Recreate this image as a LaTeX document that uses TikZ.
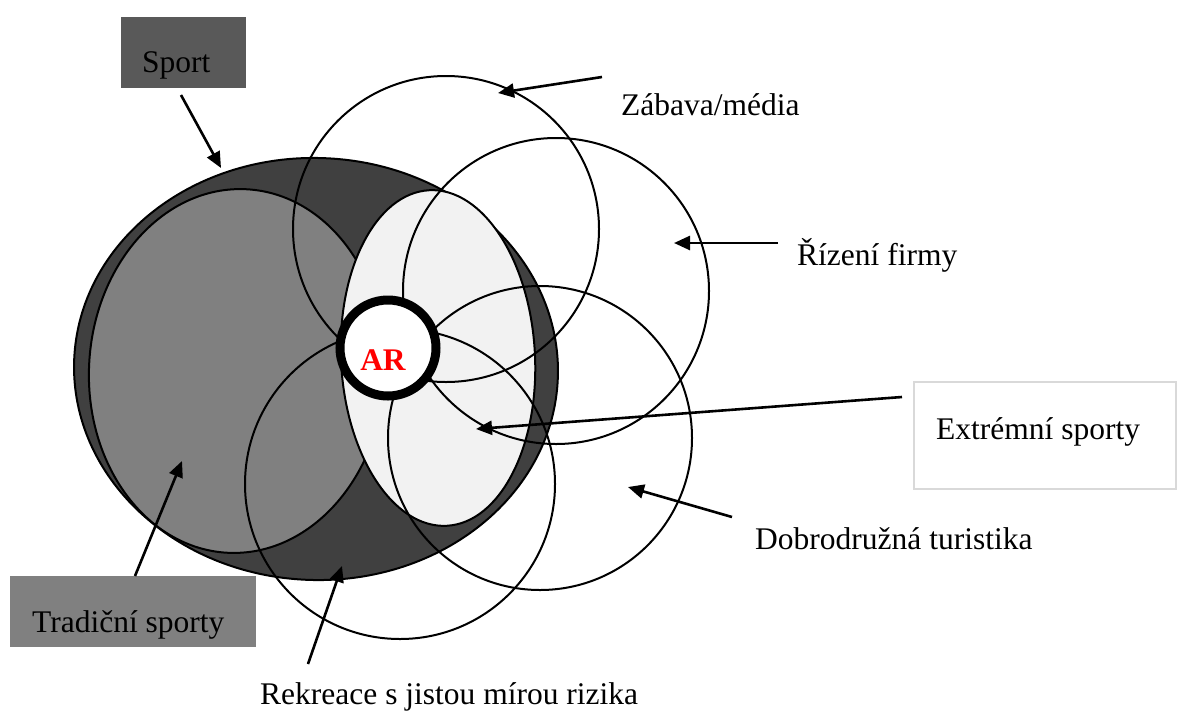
\documentclass[tikz,border=0pt]{standalone}
\usepackage{fontspec}
\setmainfont{Liberation Serif}
\usetikzlibrary{arrows.meta}
\definecolor{sportdark}{HTML}{404040}
\definecolor{tradgray}{HTML}{808080}
\definecolor{extrlight}{HTML}{F2F2F2}
\definecolor{sportbox}{HTML}{595959}
\definecolor{boxline}{HTML}{D9D9D9}
\begin{document}
\begin{tikzpicture}[x=1pt,y=-1pt,
  lbl/.style={font=\fontsize{31.5}{36}\selectfont, inner sep=0pt, text=black},
  outl/.style={draw=black, line width=2pt},
  arr/.style={draw=black, line width=2.6pt, -{Triangle[length=16pt,width=14pt]}},
  labelbox/.style={rectangle, inner sep=0pt, draw=none}]
\useasboundingbox (0,0) rectangle (1178,713);
% regions
\fill[sportdark, draw=black, line width=2pt, rotate around={-2:(316,369)}] (316,369) ellipse [x radius=242pt, y radius=211pt];
\fill[tradgray, draw=black, line width=2pt, rotate around={-3:(237,371)}] (237,371) ellipse [x radius=148pt, y radius=182pt];
\fill[extrlight, draw=black, line width=2pt, rotate around={3:(438,358)}] (438,358) ellipse [x radius=97pt, y radius=168pt];
% overlapping circles
\draw[outl] (446,229) circle [radius=153pt];
\draw[outl] (556,291) circle [radius=153pt];
\draw[outl] (540,438) circle [radius=152pt];
\draw[outl] (400,484) circle [radius=155pt];
% AR
\node[circle, draw=black, fill=white, line width=9pt, minimum size=96pt, inner sep=0pt] (ar) at (388,348) {};
\node[lbl, font=\fontsize{31.5}{36}\selectfont\bfseries, text=red] (artext) at (383,360) {AR};
% label boxes
\node[labelbox, fill=sportbox, minimum width=125pt, minimum height=71pt] (sportbox) at (183.5,52.5) {};
\node[lbl, anchor=base west] (sportlbl) at (142,72) {Sport};
\node[labelbox, fill=tradgray, minimum width=246pt, minimum height=71pt] (tradbox) at (133,611.5) {};
\node[lbl, anchor=base west] (tradlbl) at (32,632) {Tradiční sporty};
\node[labelbox, draw=boxline, line width=1.5pt, fill=white, minimum width=262pt, minimum height=107pt] (extrbox) at (1045,435.5) {};
\node[lbl, anchor=base west] (extrlbl) at (936,439) {Extrémní sporty};
\node[lbl, anchor=base west] (zablbl) at (621,115) {Zábava/média};
\node[lbl, anchor=base west] (rizlbl) at (797,265) {Řízení firmy};
\node[lbl, anchor=base west] (doblbl) at (755,549) {Dobrodružná turistika};
\node[lbl, anchor=base west] (reklbl) at (260,704) {Rekreace s jistou mírou rizika};
% arrow end points
\coordinate (sportS) at (181,95);   \coordinate (sportT) at (221,168);
\coordinate (zabS) at (602,77);     \coordinate (zabT) at (498,93);
\coordinate (rizS) at (778,243);    \coordinate (rizT) at (674,243);
\coordinate (extrS) at (902,397);   \coordinate (extrT) at (476,429);
\coordinate (dobS) at (732,517);    \coordinate (dobT) at (628,487);
\coordinate (tradS) at (135,576);   \coordinate (tradT) at (182,461);
\coordinate (rekS) at (308,664);    \coordinate (rekT) at (342,566);
\draw[arr] (sportS) -- (sportT);
\draw[arr] (zabS) -- (zabT);
\draw[arr] (rizS) -- (rizT);
\draw[arr] (extrS) -- (extrT);
\draw[arr] (dobS) -- (dobT);
\draw[arr] (tradS) -- (tradT);
\draw[arr] (rekS) -- (rekT);
\end{tikzpicture}
\end{document}
